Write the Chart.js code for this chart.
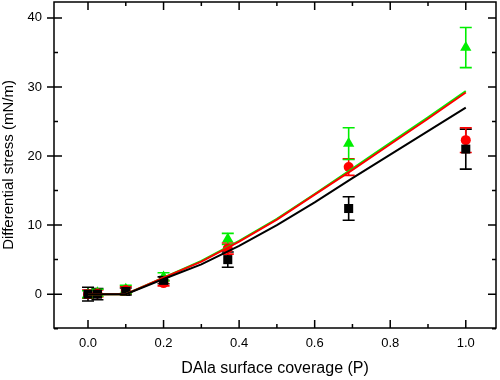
<!DOCTYPE html>
<html>
<head>
<meta charset="utf-8">
<script src="https://cdn.jsdelivr.net/npm/chart.js@4/dist/chart.umd.min.js"></script>
<style>
  html, body { margin:0; padding:0; background:#fff; }
  #wrap { width:500px; height:380px; }
</style>
</head>
<body>
<div id="wrap"><canvas id="chart"></canvas></div>
<script>
// coverage values of the measured points
const coverage = [0, 0.025, 0.1, 0.2, 0.37, 0.69, 1.0];

// measured stress with error bars
const blackY   = [0, 0, 0.4, 2.0, 5.0, 12.4, 21.0];
const blackErr = [1.0, 0.8, 0.5, 0.5, 1.1, 1.7, 2.9];
const redY     = [0, 0.1, 0.6, 1.6, 6.6, 18.4, 22.3];
const redErr   = [0.6, 0.5, 0.5, 0.4, 0.8, 1.2, 1.8];
const greenY   = [0, 0.2, 0.7, 2.5, 8.0, 21.8, 35.7];
const greenErr = [0.5, 0.5, 0.6, 0.6, 0.8, 2.3, 2.9];

// fitted curves
const fitX     = [0, 0.1, 0.2, 0.3, 0.4, 0.5, 0.6, 0.7, 0.8, 0.9, 1.0];
const blackFit = [0, 0, 2.2, 4.3, 7.0, 10.0, 13.3, 16.8, 20.2, 23.6, 27.0];
const redFit   = [0, 0, 2.4, 4.7, 7.6, 10.8, 14.4, 18.0, 21.7, 25.4, 29.2];
const greenFit = [0, 0, 2.4, 4.8, 7.7, 10.9, 14.5, 18.2, 21.9, 25.6, 29.4];

// axis ticks
const xTicks = [0, 0.2, 0.4, 0.6, 0.8, 1.0];
const xMinor = [0.1, 0.3, 0.5, 0.7, 0.9];
const yTicks = [0, 10, 20, 30, 40];
const yMinor = [-5, 5, 15, 25, 35];

const pts = (xs, ys) => xs.map((x, i) => ({ x, y: ys[i] }));

function fitSet(ys, color) {
    return { type:'scatter', data: pts(fitX, ys), showLine:true, borderColor:color,
        borderWidth:2, pointRadius:0, tension:0, fill:false };
}
function markSet(ys, errs, color, style, r) {
    return { type:'scatter', data: pts(coverage, ys), errs, showLine:false,
        pointStyle:style, pointRadius:r, pointBackgroundColor:color,
        pointBorderColor:color, pointBorderWidth:0, backgroundColor:color, borderColor:color };
}

// error bars, ticks on all four sides and frame
const decor = {
    id: 'decor',
    beforeDatasetsDraw(chart) {
        const ctx = chart.ctx, xs = chart.scales.x, ys = chart.scales.y;
        ctx.save();
        ctx.lineWidth = 1.6;
        chart.data.datasets.forEach(ds => {
            if (!ds.errs) return;
            ctx.strokeStyle = ds.borderColor;
            ds.data.forEach((p, i) => {
                const px = xs.getPixelForValue(p.x);
                const top = ys.getPixelForValue(p.y + ds.errs[i]);
                const bot = ys.getPixelForValue(p.y - ds.errs[i]);
                ctx.beginPath();
                ctx.moveTo(px, top); ctx.lineTo(px, bot);
                ctx.moveTo(px - 6, top); ctx.lineTo(px + 6, top);
                ctx.moveTo(px - 6, bot); ctx.lineTo(px + 6, bot);
                ctx.stroke();
            });
        });
        ctx.restore();
    },
    afterDraw(chart) {
        const ctx = chart.ctx, a = chart.chartArea;
        const xs = chart.scales.x, ys = chart.scales.y;
        ctx.save();
        ctx.strokeStyle = '#000';
        ctx.lineWidth = 1.5;
        ctx.strokeRect(a.left, a.top, a.right - a.left, a.bottom - a.top);
        ctx.beginPath();
        xTicks.forEach(v => {
            const px = xs.getPixelForValue(v);
            ctx.moveTo(px, a.bottom); ctx.lineTo(px, a.bottom - 8);
            ctx.moveTo(px, a.top); ctx.lineTo(px, a.top + 8);
        });
        xMinor.forEach(v => {
            const px = xs.getPixelForValue(v);
            ctx.moveTo(px, a.bottom); ctx.lineTo(px, a.bottom - 4);
            ctx.moveTo(px, a.top); ctx.lineTo(px, a.top + 4);
        });
        yTicks.forEach(v => {
            const py = ys.getPixelForValue(v);
            ctx.moveTo(a.left - 7, py); ctx.lineTo(a.left + 8, py);
            ctx.moveTo(a.right, py); ctx.lineTo(a.right - 8, py);
        });
        yMinor.forEach(v => {
            const py = ys.getPixelForValue(v);
            ctx.moveTo(a.left, py); ctx.lineTo(a.left + 4, py);
            ctx.moveTo(a.right, py); ctx.lineTo(a.right - 4, py);
        });
        ctx.stroke();
        ctx.restore();
    }
};

const tickFont = { family:'"Liberation Sans", Arial, sans-serif', size:13 };
const titleFont = { family:'"Liberation Sans", Arial, sans-serif', size:15 };

new Chart(document.getElementById('chart'), {
    type: 'scatter',
    data: {
        datasets: [
            fitSet(blackFit, '#000000'),
            fitSet(redFit, '#ff0000'),
            fitSet(greenFit, '#00ee00'),
            markSet(blackY, blackErr, '#000000', 'rect', 6.4),
            markSet(redY, redErr, '#ff0000', 'circle', 5),
            markSet(greenY, greenErr, '#00ee00', 'triangle', 6.5)
        ]
    },
    options: {
        responsive: true,
        maintainAspectRatio: false,
        animation: false,
        layout: { autoPadding: false, padding: { top: 2, right: 4, left: 0, bottom: 0 } },
        plugins: { legend: { display:false }, tooltip: { enabled:false } },
        scales: {
            x: {
                type: 'linear', min: -0.09, max: 1.08,
                afterBuildTicks: s => { s.ticks = xTicks.map(v => ({ value: v })); },
                afterFit: s => { s.height = 52; s.paddingLeft = 0; s.paddingRight = 0; },
                grid: { display:false, drawTicks:false },
                border: { display:false },
                ticks: { color:'#000', font: tickFont, padding: 8,
                    callback: v => Number(v).toFixed(1) },
                title: { display:true, text:'DAla surface coverage (P)', color:'#000',
                    font: { family: titleFont.family, size: 16 }, padding: { top: 4, bottom: 2 } }
            },
            y: {
                type: 'linear', min: -4.9, max: 42.3,
                afterBuildTicks: s => { s.ticks = yTicks.map(v => ({ value: v })); },
                afterFit: s => { s.width = 54; s.paddingTop = 0; s.paddingBottom = 0; },
                grid: { display:false, drawTicks:false },
                border: { display:false },
                ticks: { color:'#000', font: tickFont, padding: 12 },
                title: { display:true, text:'Differential stress (mN/m)', color:'#000',
                    font: titleFont, padding: { top: 0, bottom: 4 } }
            }
        }
    },
    plugins: [decor]
});
</script>
</body>
</html>
